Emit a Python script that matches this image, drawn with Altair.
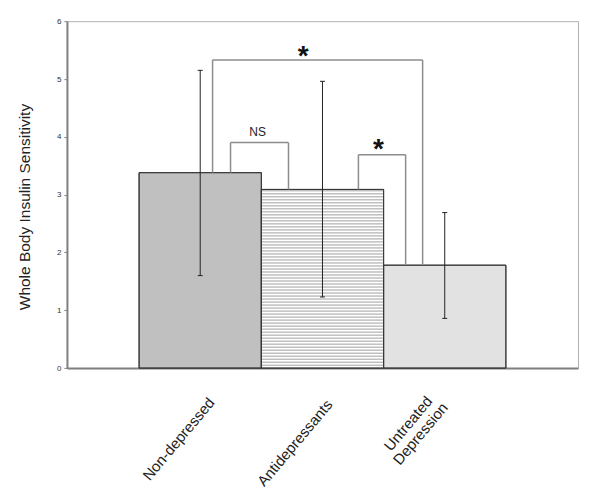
import altair as alt
import numpy as np
import pandas as pd

# ---- data ----
categories = ["Non-depressed", "Antidepressants", "Untreated Depression"]
positions = [1, 2, 3]
means = [3.38, 3.09, 1.78]
err_low = [1.60, 1.23, 0.86]
err_high = [5.15, 4.96, 2.69]
fills = ["#c0c0c0", "#ffffff", "#e2e2e2"]

# significance brackets (x in category units, y in data units)
br_left = [1.101, 1.248, 2.294]
br_right = [2.819, 1.722, 2.680]
br_top = [5.33, 3.90, 3.69]
br_left_base = [3.38, 3.38, 3.09]
br_right_base = [1.78, 3.09, 1.78]

ann_text = ["*", "NS", "*"]
ann_x = [1.843, 1.469, 2.457]
ann_y = [5.24, 4.02, 3.63]
ann_size = [28, 12, 28]
ann_bold = [True, False, True]

# horizontal hatch lines of the Antidepressants bar
stripe_y = list(np.arange(0.05, 3.09, 0.052))

bars = pd.DataFrame({
    "cat": categories, "pos": positions, "mean": means,
    "lo": err_low, "hi": err_high, "fill": fills,
})
bars["left"] = bars["pos"] - 0.5
bars["right"] = bars["pos"] + 0.5

segs = []
for l, r, t, lb, rb in zip(br_left, br_right, br_top, br_left_base, br_right_base):
    segs.append({"x": l, "x2": l, "y": lb, "y2": t})
    segs.append({"x": l, "x2": r, "y": t, "y2": t})
    segs.append({"x": r, "x2": r, "y": rb, "y2": t})
segs = pd.DataFrame(segs)

stripes = pd.DataFrame({"y": stripe_y, "x": 1.5, "x2": 2.5})
ann = pd.DataFrame({"t": ann_text, "x": ann_x, "y": ann_y,
                    "size": ann_size, "bold": ann_bold})

xscale = alt.Scale(domain=[-0.09, 4.09], nice=False, zero=False)
yscale = alt.Scale(domain=[0, 6], nice=False)

label_expr = ("datum.value == 1 ? 'Non-depressed' : datum.value == 2 ? "
              "'Antidepressants' : ['Untreated', 'Depression']")

xaxis = alt.Axis(
    values=[1, 2, 3], labelExpr=label_expr, title=None, ticks=False, grid=False,
    labelAngle=-50, labelAlign="center", labelBaseline="middle",
    labelFont="Liberation Sans", labelFontSize=15, labelColor="#222222",
    labelLineHeight=16, labelOverlap=False,
    labelOffset={"condition": [{"test": "datum.value == 1", "value": -22},
                               {"test": "datum.value == 2", "value": -28}],
                 "value": -37},
    labelPadding={"condition": [{"test": "datum.value == 1", "value": 70.5},
                                {"test": "datum.value == 2", "value": 74.5}],
                  "value": 55},
    domainColor="#808080", domainWidth=2,
)
yaxis = alt.Axis(
    values=[0, 1, 2, 3, 4, 5, 6], format="d", title="Whole Body Insulin Sensitivity",
    grid=False, labelFont="Liberation Sans", labelFontSize=8, labelColor="#333333",
    labelPadding=3, tickSize=3, tickColor="#808080", domainColor="#808080",
    domainWidth=2, titleFont="Liberation Sans", titleFontSize=15.5,
    titleFontWeight="normal", titleColor="#222222", titleX=-37, titleY=185.5,
    titleBaseline="alphabetic", titleAlign="center", titleAngle=-90,
)

bar_layer = alt.Chart(bars).mark_rect(stroke="#383838", strokeWidth=1).encode(
    x=alt.X("left:Q", scale=xscale, axis=xaxis),
    x2="right:Q",
    y=alt.Y("mean:Q", scale=yscale, axis=yaxis),
    y2=alt.datum(0),
    fill=alt.Fill("fill:N", scale=None),
)

stripe_layer = alt.Chart(stripes).mark_rule(color="#a0a0a0", strokeWidth=1).encode(
    x="x:Q", x2="x2:Q", y="y:Q",
)

outline_layer = alt.Chart(bars).mark_rect(
    fill=None, stroke="#383838", strokeWidth=1
).encode(x="left:Q", x2="right:Q", y="mean:Q", y2=alt.datum(0))

bracket_layer = alt.Chart(segs).mark_rule(color="#8c8c8c", strokeWidth=1.5).encode(
    x="x:Q", x2="x2:Q", y="y:Q", y2="y2:Q",
)

err_layer = alt.Chart(bars).mark_rule(color="#222222", strokeWidth=1).encode(
    x="pos:Q", y="lo:Q", y2="hi:Q",
)
cap_lo = alt.Chart(bars).mark_tick(
    orient="horizontal", size=5, thickness=1, color="#222222", opacity=1
).encode(x="pos:Q", y="lo:Q")
cap_hi = alt.Chart(bars).mark_tick(
    orient="horizontal", size=5, thickness=1, color="#222222", opacity=1
).encode(x="pos:Q", y="hi:Q")

star_layer = alt.Chart(ann).transform_filter("datum.bold").mark_text(
    font="Liberation Sans", baseline="alphabetic", align="center",
    color="#111111", fontWeight="bold"
).encode(x="x:Q", y="y:Q", text="t:N", size=alt.Size("size:Q", scale=None))

ns_layer = alt.Chart(ann).transform_filter("!datum.bold").mark_text(
    font="Liberation Sans", baseline="alphabetic", align="center",
    color="#222222", fontWeight="normal"
).encode(x="x:Q", y="y:Q", text="t:N", size=alt.Size("size:Q", scale=None))

chart = alt.layer(
    bar_layer, stripe_layer, outline_layer, bracket_layer,
    err_layer, cap_lo, cap_hi, star_layer, ns_layer,
).properties(
    width=511.5, height=347.2,
    autosize=alt.AutoSizeParams(type="none"),
    padding={"left": 59, "top": 13, "right": 14, "bottom": 120},
).configure_view(stroke="#b0b0b0", strokeWidth=1)

chart.save("out.html", embed_options={"renderer": "svg", "actions": False})
